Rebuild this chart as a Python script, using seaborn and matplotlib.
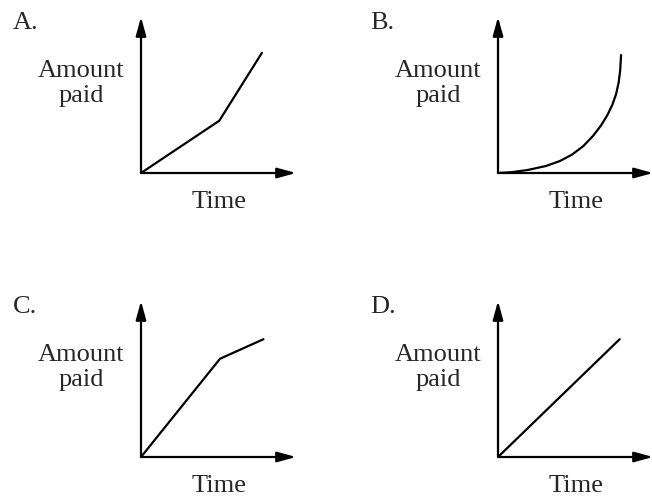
#
#------------------------------------------------------------------------#
# Import required modules
import numpy as np
import seaborn as sns
import matplotlib
matplotlib.use("Agg")
import matplotlib.pyplot as plt
#
#------------------------------------------------------------------------#
# Data (axis units 0..1 up to the arrow tips)
panel_labels = ["A.", "B.", "C.", "D."]
y_label_top = "Amount"
y_label_bottom = "paid"
x_label = "Time"
#
time_a = [0, 0.505, 0.78]
paid_a = [0, 0.335, 0.77]
#
time_b = [0, 0.088, 0.195, 0.310, 0.400, 0.476, 0.550, 0.615, 0.665,
          0.705, 0.738, 0.762, 0.778, 0.788, 0.794]
paid_b = [0, 0.005, 0.020, 0.045, 0.077, 0.117, 0.172, 0.240, 0.305,
          0.370, 0.438, 0.506, 0.578, 0.655, 0.756]
#
time_c = [0, 0.51, 0.79]
paid_c = [0, 0.63, 0.755]
#
time_d = [0, 0.785]
paid_d = [0, 0.755]
#
series = [(time_a, paid_a), (time_b, paid_b), (time_c, paid_c), (time_d, paid_d)]
#
#------------------------------------------------------------------------#
# Style
sns.set_style("white")
plt.rcParams["font.family"] = ["Liberation Serif", "DejaVu Serif"]
#
W, H = 652, 496
fig = plt.figure(figsize=(W / 100, H / 100), dpi=100)
#
# origins of the four little graphs, in pixels
origins = [(141, 173), (498, 173), (141, 457), (498, 457)]
axw, axh = 155, 156
#
for lab, (ox, oy), (tx, py) in zip(panel_labels, origins, series):
    ax = fig.add_axes([ox / W, (H - oy) / H, axw / W, axh / H])
    ax.set_xlim(0, 1)
    ax.set_ylim(0, 1)
    ax.axis("off")
    #
    # arrows for the axes
    arrow = dict(arrowstyle="-|>,head_length=0.8,head_width=0.22",
                 mutation_scale=14, lw=1.6, color="black",
                 shrinkA=0, shrinkB=0)
    ax.annotate("", xy=(1, 0), xytext=(0, 0), arrowprops=arrow,
                annotation_clip=False)
    ax.annotate("", xy=(0, 1), xytext=(0, 0), arrowprops=arrow,
                annotation_clip=False)
    #
    # the curve
    sns.lineplot(x=tx, y=py, ax=ax, color="black", lw=1.6,
                 sort=False, estimator=None, legend=False)
    for ln in ax.lines:
        ln.set_clip_on(False)
        ln.set_solid_joinstyle("round")
    #
    # texts
    ax.text(-0.826, 0.92, lab, fontsize=19, ha="left", va="baseline")
    ax.text(-0.387, 0.615, y_label_top, fontsize=19, ha="center", va="baseline")
    ax.text(-0.387, 0.458, y_label_bottom, fontsize=19, ha="center", va="baseline")
    ax.text(0.503, -0.224, x_label, fontsize=19, ha="center", va="baseline")
#
fig.savefig("out.png", dpi=100)
